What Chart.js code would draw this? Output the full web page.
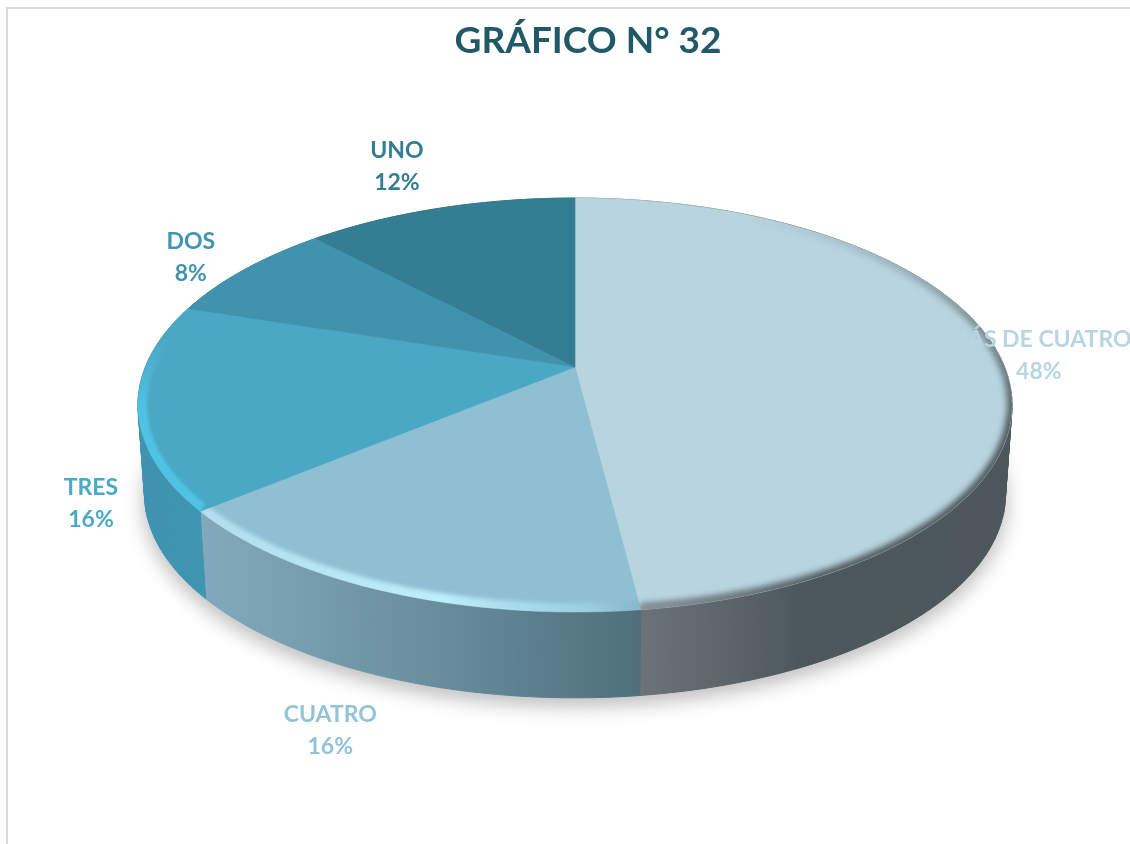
<!DOCTYPE html>
<html><head><meta charset="utf-8">
<script src="https://cdn.jsdelivr.net/npm/chart.js@4"></script>
<style>html,body{margin:0;padding:0;background:#fff}canvas{display:block}</style>
</head><body>
<canvas id="c" width="1130" height="844"></canvas>
<script>
const categories = ["MÁS DE CUATRO", "CUATRO", "TRES", "DOS", "UNO"];
const percentages = [48, 16, 16, 8, 12];
const titleText = "GRÁFICO N° 32";

const faceColors = ["#b8d4df", "#8fbfd3", "#4aa8c5", "#4193ad", "#347e94"];
const labelColors = ["#b8d5e1", "#93c3d7", "#4aa9c7", "#4195b0", "#347e94"];
const wallStops = [
  [[640, "#6c7378"], [800, "#4d585d"], [1010, "#4c565b"]],
  [[207, "#82a9bb"], [420, "#6a909f"], [640, "#4f6f7c"]],
  [[143, "#3f93af"], [212, "#4095b1"]],
  [[143, "#3a8aa3"], [300, "#3a8aa3"]],
  [[300, "#2e7286"], [575, "#2e7286"]]
];
const labelOffsets = [[40, 1], [-54, 139], [-47, 98], [-54, -12], [-43, -42]];

// projection of the pie disc onto the page (tilted, with perspective)
const P = {cx: 575, cy: 367, A: 429.6, B: 200, k: 0.1837, depth: 89.5, base: 0.985};
function proj(a, s, dy) {
  const u = Math.cos(a), v = Math.sin(a), w = 1 - P.k * v;
  return [P.cx + P.A * s * u / w, P.cy + dy + P.B * s * v / w];
}
function trace(ctx, a0, a1, s, dy, first) {
  const n = Math.max(8, Math.ceil(Math.abs(a1 - a0) * 90));
  for (let i = 0; i <= n; i++) {
    const p = proj(a0 + (a1 - a0) * i / n, s, dy);
    if (i === 0 && first) ctx.moveTo(p[0], p[1]); else ctx.lineTo(p[0], p[1]);
  }
}
function hGrad(ctx, stops) {
  const x0 = stops[0][0], x1 = stops[stops.length - 1][0];
  const g = ctx.createLinearGradient(x0, 0, x1, 0);
  stops.forEach(s => g.addColorStop((s[0] - x0) / (x1 - x0), s[1]));
  return g;
}
function vGrad(ctx, stops) {
  const y0 = stops[0][0], y1 = stops[stops.length - 1][0];
  const g = ctx.createLinearGradient(0, y0, 0, y1);
  stops.forEach(s => g.addColorStop((s[0] - y0) / (y1 - y0), s[1]));
  return g;
}
function wall(ctx, arc, style) {
  const n = Math.ceil((arc.endAngle - arc.startAngle) * 40);
  ctx.fillStyle = style;
  ctx.strokeStyle = style;
  ctx.lineWidth = 1;
  ctx.lineJoin = "round";
  for (let i = 0; i < n; i++) {
    const a = arc.startAngle + (arc.endAngle - arc.startAngle) * i / n;
    const b = arc.startAngle + (arc.endAngle - arc.startAngle) * (i + 1) / n;
    const t0 = proj(a, 1, 0), t1 = proj(b, 1, 0);
    const b1 = proj(b, P.base, P.depth), b0 = proj(a, P.base, P.depth);
    ctx.beginPath();
    ctx.moveTo(t0[0], t0[1]);
    ctx.lineTo(t1[0], t1[1]);
    ctx.lineTo(b1[0], b1[1]);
    ctx.lineTo(b0[0], b0[1]);
    ctx.closePath();
    ctx.fill();
    ctx.stroke();
  }
}
function rim(ctx, arc, style, width, blur, fromAngle) {
  ctx.save();
  ctx.beginPath();
  ctx.moveTo(P.cx, P.cy);
  trace(ctx, arc.startAngle, arc.endAngle, 1, 0, false);
  ctx.closePath();
  ctx.clip();
  ctx.filter = "blur(" + blur + "px)";
  ctx.strokeStyle = style;
  ctx.lineWidth = width;
  ctx.beginPath();
  trace(ctx, fromAngle === undefined ? arc.startAngle : Math.max(arc.startAngle, fromAngle), arc.endAngle, 1, 0, true);
  ctx.stroke();
  ctx.restore();
}

const pie3d = {
  id: "pie3d",
  beforeDraw(chart) {
    const ctx = chart.ctx;
    ctx.save();
    ctx.strokeStyle = "#d9d9d9";
    ctx.lineWidth = 2;
    ctx.strokeRect(7, 8, 1200, 1000);
    ctx.restore();
  },
  beforeDatasetsDraw(chart) {
    const ctx = chart.ctx;
    const arcs = chart.getDatasetMeta(0).data;
    ctx.save();
    // ground shadow
    ctx.save();
    ctx.filter = "blur(9px)";
    ctx.fillStyle = "rgba(120,120,120,0.45)";
    ctx.beginPath();
    trace(ctx, 0, Math.PI * 2, 0.99, P.depth + 8, true);
    ctx.closePath();
    ctx.fill();
    ctx.restore();
    // walls
    arcs.forEach((arc, i) => wall(ctx, arc, hGrad(ctx, wallStops[i])));
    // top faces
    arcs.forEach((arc, i) => {
      ctx.beginPath();
      ctx.moveTo(P.cx, P.cy);
      trace(ctx, arc.startAngle, arc.endAngle, 1, 0, false);
      ctx.closePath();
      ctx.fillStyle = faceColors[i];
      ctx.fill();
      ctx.strokeStyle = faceColors[i];
      ctx.lineWidth = 0.6;
      ctx.stroke();
    });
    // bevel
    rim(ctx, arcs[0], vGrad(ctx, [[215, "rgba(76,86,91,0)"], [300, "rgba(76,86,91,0.45)"], [430, "rgba(76,86,91,1)"]]), 10, 3);
    rim(ctx, arcs[0], hGrad(ctx, [[640, "rgba(150,162,168,0.9)"], [820, "rgba(150,162,168,0)"]]), 10, 3, 0.3);
    rim(ctx, arcs[1], hGrad(ctx, [[200, "rgba(190,232,245,0.75)"], [440, "rgba(190,238,250,1)"], [590, "rgba(170,225,240,0.45)"], [640, "rgba(120,170,185,0.3)"]]), 18, 2);
    rim(ctx, arcs[2], vGrad(ctx, [[340, "rgba(80,195,228,0)"], [410, "rgba(80,195,228,1)"]]), 18, 1.5);
    ctx.restore();
    return false;
  },
  afterDraw(chart) {
    const ctx = chart.ctx;
    const arcs = chart.getDatasetMeta(0).data;
    ctx.save();
    ctx.font = "bold 23px Lato";
    ctx.textAlign = "center";
    ctx.textBaseline = "middle";
    arcs.forEach((arc, i) => {
      const p = proj((arc.startAngle + arc.endAngle) / 2, 1, 0);
      const x = p[0] + labelOffsets[i][0], y = p[1] + labelOffsets[i][1];
      ctx.fillStyle = labelColors[i];
      ctx.fillText(categories[i], x, y - 16);
      ctx.fillText(percentages[i] + "%", x, y + 16);
    });
    ctx.restore();
  }
};

new Chart(document.getElementById("c"), {
  type: "pie",
  data: {labels: categories, datasets: [{data: percentages, backgroundColor: faceColors, borderWidth: 0}]},
  options: {
    responsive: false,
    animation: false,
    layout: {padding: {left: 46, top: 19}},
    plugins: {
      legend: {display: false},
      tooltip: {enabled: false},
      title: {display: true, text: titleText, color: "#215968",
        font: {family: "Lato", size: 37, weight: "bold"}, padding: {top: 0, bottom: 10}}
    }
  },
  plugins: [pie3d]
});
</script>
</body></html>
